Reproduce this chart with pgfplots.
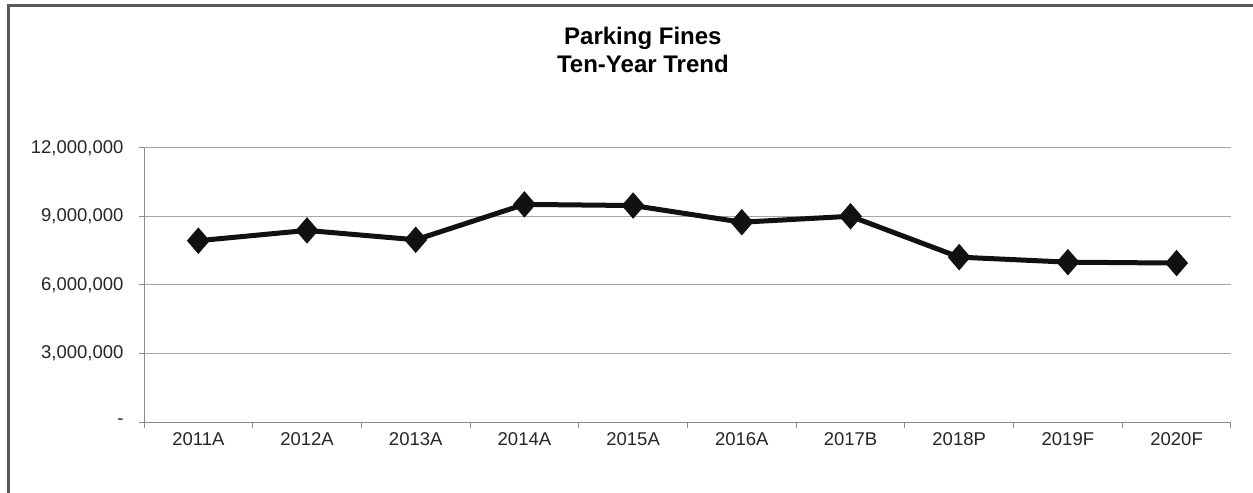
\documentclass[border=0pt]{standalone}
\usepackage{fontspec}
\setmainfont{Liberation Sans}
\usepackage{pgfplots}
\pgfplotsset{compat=1.18}
\definecolor{gridgrey}{HTML}{A6A6A6}
\definecolor{axisgrey}{HTML}{8C8C8C}
\definecolor{framegrey}{HTML}{5A5A5A}
\definecolor{linecol}{HTML}{111111}
\begin{document}
\begin{tikzpicture}
\useasboundingbox[fill=white] (0,0) rectangle (1253bp,493bp);
\draw[framegrey, line width=3bp] (8bp,0) -- (8bp,487bp) -- (1253bp,487bp);
\begin{axis}[
  at={(144bp,71bp)}, anchor=south west,
  scale only axis, width=1087bp, height=274bp,
  xmin=-0.5, xmax=9.5, ymin=0, ymax=12000000,
  scaled y ticks=false,
  axis x line*=bottom, axis y line*=left,
  axis line style={axisgrey, line width=1bp},
  xtick={0,...,9},
  xticklabels={2011A,2012A,2013A,2014A,2015A,2016A,2017B,2018P,2019F,2020F},
  major x tick style={draw=none},
  minor xtick={-0.5,0.5,...,9.5},
  minor tick length=6bp,
  minor x tick style={axisgrey, line width=1bp},
  ytick={0,3000000,6000000,9000000,12000000},
  yticklabels={-,{3,000,000},{6,000,000},{9,000,000},{12,000,000}},
  major tick length=5bp,
  tick align=outside,
  y tick style={axisgrey, line width=1bp},
  ymajorgrids, grid style={gridgrey, line width=1bp},
  tick label style={font=\fontsize{18.5bp}{22bp}\selectfont, text=black!85},
  yticklabel style={xshift=-12bp},
  xticklabel style={yshift=-2bp},
  title={Parking Fines\\Ten-Year Trend},
  title style={at={(axis description cs:0.459,1.336)}, anchor=center, align=center,
    font=\fontsize{24bp}{28bp}\selectfont\bfseries},
  clip=false,
]
\addplot[linecol, line width=5bp, mark=diamond*, mark size=12.5bp,
  mark options={line width=1bp, fill=linecol, draw=linecol, xscale=1.15}]
  coordinates {
  (0,7940000) (1,8390000) (2,7980000) (3,9530000) (4,9480000)
  (5,8750000) (6,9010000) (7,7220000) (8,7000000) (9,6960000)
};
\end{axis}
\end{tikzpicture}
\end{document}
